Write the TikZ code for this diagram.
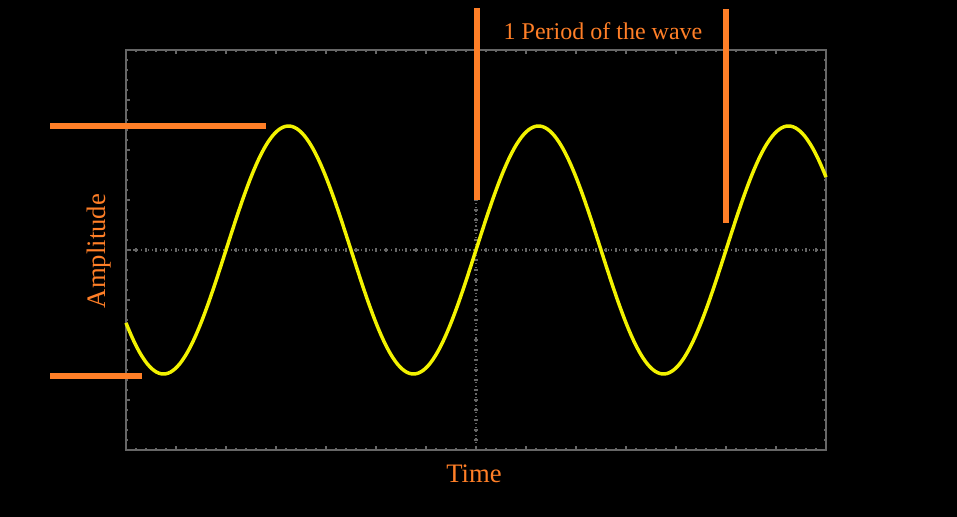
\documentclass[tikz,border=0pt]{standalone}
\usepackage{fontspec}
\setmainfont{Liberation Serif}
\definecolor{scopeorange}{HTML}{FF7F27}
\definecolor{scopeyellow}{HTML}{F2F200}
\definecolor{scopegrid}{HTML}{666666}

\begin{document}
\begin{tikzpicture}[x=0.75pt,y=-0.75pt,
            gridline/.style={scopegrid,line width=0.8pt},
            barline/.style={scopeorange,line width=3.8pt},
            wave/.style={scopeyellow,line width=2.6pt},
            scopetext/.style={text=scopeorange,font=\fontsize{18}{21}\selectfont},
            bigtext/.style={text=scopeorange,font=\fontsize{20}{24}\selectfont}]
  \fill[black] (0,0) rectangle (957,517);
  \useasboundingbox (0,0) rectangle (957,517);
  % screen frame and centre lines
  \draw[gridline] (126,50) rectangle (826,450);
  \draw[gridline,dotted] (126,250) -- (826,250);
  \draw[gridline,dotted] (476,50) -- (476,450);
  \foreach \i in {1,...,69} {
    \pgfmathsetmacro\len{ifthenelse(mod(\i,5)==0,4,2)}
    \draw[gridline] (126+10*\i,50) -- ++(0,\len);
    \draw[gridline] (126+10*\i,450) -- ++(0,-\len);
    \draw[gridline] (126+10*\i,248) -- (126+10*\i,252);
  }
  \foreach \i in {1,...,39} {
    \pgfmathsetmacro\len{ifthenelse(mod(\i,5)==0,4,2)}
    \draw[gridline] (126,50+10*\i) -- ++(\len,0);
    \draw[gridline] (826,50+10*\i) -- ++(-\len,0);
    \draw[gridline] (474,50+10*\i) -- (478,50+10*\i);
  }
  % the signal (period 250, 1.44 deg per unit)
  \draw[wave] plot[domain=126:826,samples=300,smooth] (\x,{250-124*sin(1.44*(\x-476))});
  % markers
  \coordinate (ampTop) at (50,126);
  \coordinate (ampTopEnd) at (266,126);
  \coordinate (ampBot) at (50,376);
  \coordinate (ampBotEnd) at (142,376);
  \coordinate (perStart) at (477,8);
  \coordinate (perStartEnd) at (477,200);
  \coordinate (perStop) at (726,9);
  \coordinate (perStopEnd) at (726,223);
  \draw[barline] (ampTop) -- (ampTopEnd);
  \draw[barline] (ampBot) -- (ampBotEnd);
  \draw[barline] (perStart) -- (perStartEnd);
  \draw[barline] (perStop) -- (perStopEnd);
  \node[scopetext] (period) at (603,31) {1 Period of the wave};
  \node[bigtext,rotate=90] (amp) at (99,251) {Amplitude};
  \node[bigtext] (time) at (474,474) {Time};
\end{tikzpicture}
\end{document}
